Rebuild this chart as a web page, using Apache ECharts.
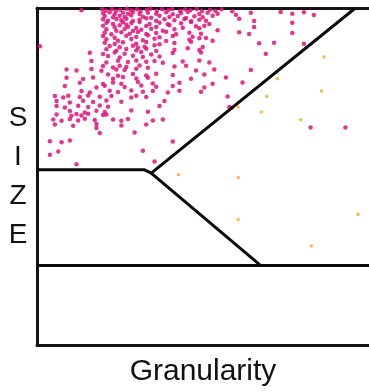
<!DOCTYPE html>
<html>
<head>
<meta charset="utf-8">
<script src="https://cdn.jsdelivr.net/npm/echarts@6/dist/echarts.min.js"></script>
<style>
  html, body { margin: 0; padding: 0; background: #fff; }
  #chart { width: 369px; height: 392px; }
</style>
</head>
<body>
<div id="chart"></div>
<script>
// scatter events, [granularity, size]
var pinkCells = [
  [134,1003],[196,1006],[207,1002],[226,1007],[238,1001],[251,1005],[270,1008],[283,1003],[301,1006],[312,1000],[331,1005],[342,1008],[361,1002],[377,1006],[396,1004],[408,1007],[431,1002],[446,1006],[462,1003],[481,1007],[497,1001],[521,1005],[537,1002],[556,1006],[588,1000],
  [199,994],[219,997],[234,991],[259,996],[274,993],[289,998],[309,992],[334,996],[359,993],[389,997],[409,991],[434,995],[454,998],[489,992],[514,996],[544,993],[599,990],[644,996],[734,998],[769,993],[804,997],[834,989],
  [204,986],[229,982],[249,987],[264,983],[284,988],[319,984],[344,981],[369,987],[399,983],[424,986],[449,980],[474,985],[499,982],[529,987],
  [199,976],[214,972],[239,977],[254,973],[269,978],[289,971],[309,975],[329,979],[359,972],[384,976],[414,973],[444,977],[464,970],[489,975],[509,972],[609,978],[654,971],
  [209,966],[229,962],[259,967],[269,960],[284,965],[309,968],[339,962],[369,966],[394,961],[434,964],[464,968],[519,962],[769,966],
  [199,957],[234,952],[249,958],[274,954],[299,950],[329,956],[359,953],[399,958],[439,951],[479,955],[489,949],[504,957],[654,953],
  [209,946],[239,942],[264,947],[289,941],[314,945],[344,948],[379,942],[414,946],[544,943],
  [204,936],[224,931],[254,937],[279,933],[304,938],[329,932],[359,935],[389,939],[419,931],[459,936],[494,933],[609,937],[639,932],[769,935],
  [199,926],[234,921],[269,927],[299,923],[334,928],[369,922],[409,926],[469,924],[509,920],
  [209,916],[244,912],[284,917],[319,913],[354,918],[389,911],[459,915],[489,919],[529,912],
  [204,906],[234,902],[259,907],[299,903],[329,908],[369,901],[414,905],[464,909],[669,904],[714,906],[804,903],
  [9,895],[219,896],[249,892],[289,897],[304,891],[324,894],[354,898],[499,893],
  [209,886],[239,882],[269,887],[299,883],[329,888],[359,881],[414,885],[454,889],[489,884],
  [159,876],[199,872],[234,877],[264,873],[314,878],[344,871],[409,875],[494,877],[689,873],
  [214,866],[249,862],[289,867],[319,863],[369,865],
  [164,851],[209,847],[244,852],[274,848],[299,853],[329,849],[354,851],[379,846],[439,850],[489,853],[519,847],
  [199,836],[229,832],[249,837],[269,833],[309,838],[334,831],[414,835],[449,837],
  [89,826],[119,823],[164,827],[194,822],[239,826],[264,824],[299,828],[479,823],[534,826],[644,824],
  [214,811],[244,807],[289,812],[329,808],[359,813],[409,809],[504,811],
  [89,801],[139,797],[169,802],[229,798],[259,803],[299,799],[334,801],[464,798],[569,802],
  [129,786],[199,782],[229,787],[254,783],[304,788],[349,784],[429,786],[529,783],[619,787],
  [84,776],[179,772],[204,777],[264,773],[314,778],[359,774],[409,776],[504,772],
  [134,761],[159,757],[219,762],[244,758],[284,763],[319,759],[349,761],[394,757],[429,762],[494,759],
  [54,746],[79,742],[94,747],[129,743],[154,748],[189,744],[224,746],[284,742],[299,747],[329,743],[574,745],
  [59,731],[99,727],[139,732],[169,728],[209,733],[254,729],[384,731],
  [59,716],[84,712],[124,717],[154,713],[189,718],[214,714],[369,716],[579,713],[586,711],
  [99,701],[144,697],[179,702],[204,698],[284,703],[334,699],
  [59,691],[104,687],[119,692],[134,688],[154,693],[199,689],[209,691],
  [49,676],[74,672],[99,677],[124,673],[144,678],[174,674],[229,676],[254,672],[274,677],[349,673],[379,676],
  [54,661],[109,657],[179,662],[254,658],[329,661],
  [179,650],[824,652],[929,652],
  [189,635],[294,637],
  [39,611],[74,608],[99,613],[409,610],
  [64,580],[319,582],
  [39,570],[354,550],[119,542]
];

var orangeCells = [
  [864,863],[724,798],[857,761],[692,745],[606,713],[676,698],[794,675],
  [426,510],[606,502],[967,392],[606,376],[826,297]
];

// gate outlines
var gateUpper = [[0,525],[324,525],[344,515],[959,1010]];
var gateDiag = [[344,515],[674,238]];
var gateLower = [[0,238],[1000,238]];

var xName = 'Granularity';
var yName = 'S\nI\nZ\nE';

var chart = echarts.init(document.getElementById('chart'));

var axisLine = {show: true, lineStyle: {color: '#141414', width: 3}};

function gate(data) {
    return {
        type: 'line',
        data: data,
        showSymbol: false,
        symbol: 'none',
        silent: true,
        z: 3,
        lineStyle: {color: '#0a0a0a', width: 3}
    };
}

var option = {
    animation: false,
    backgroundColor: '#fff',
    grid: {left: 37, right: 0, top: 8, bottom: 47},
    xAxis: [{
        type: 'value',
        position: 'bottom',
        min: 0,
        max: 1000,
        axisLine: axisLine,
        axisTick: {show: false},
        axisLabel: {show: false},
        splitLine: {show: false},
        name: xName,
        nameLocation: 'middle',
        nameGap: 27,
        nameTextStyle: {
            fontFamily: 'Liberation Sans',
            fontSize: 30,
            color: '#111',
            verticalAlign: 'middle'
        }
    }, {
        type: 'value',
        position: 'top',
        min: 0,
        max: 1000,
        axisLine: axisLine,
        axisTick: {show: false},
        axisLabel: {show: false},
        splitLine: {show: false}
    }],
    yAxis: {
        type: 'value',
        min: 0,
        max: 1010,
        axisLine: axisLine,
        axisTick: {show: false},
        axisLabel: {show: false},
        splitLine: {show: false},
        name: yName,
        nameLocation: 'middle',
        nameRotate: 0,
        nameGap: 19,
        nameTextStyle: {
            fontFamily: 'Liberation Sans',
            fontSize: 28,
            lineHeight: 39,
            color: '#111',
            align: 'center',
            verticalAlign: 'middle'
        }
    },
    series: [{
        type: 'scatter',
        data: pinkCells,
        symbolSize: 4.5,
        z: 2,
        itemStyle: {color: '#e0127a', opacity: 0.85}
    }, {
        type: 'scatter',
        data: orangeCells,
        symbolSize: 3.5,
        z: 2,
        itemStyle: {color: '#f6a623'}
    },
        gate(gateUpper),
        gate(gateDiag),
        gate(gateLower)
    ]
};

chart.setOption(option);
</script>
</body>
</html>
